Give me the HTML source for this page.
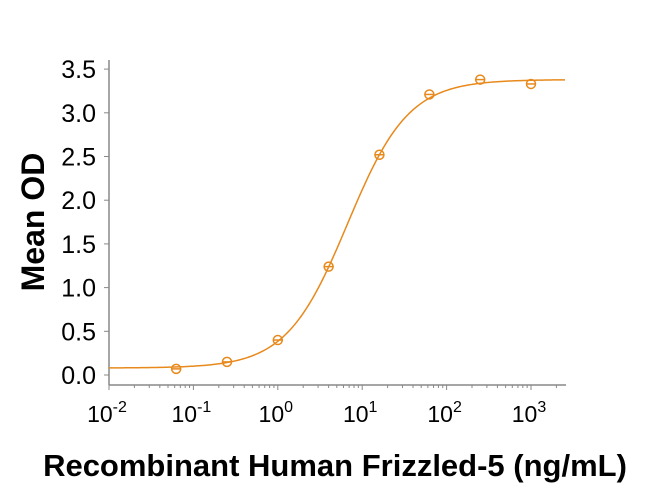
<!DOCTYPE html>
<html><head><meta charset="utf-8"><style>
body{margin:0;background:#fff;}
svg text{font-family:"Liberation Sans",Arial,sans-serif;}
</style></head><body>
<svg id="chart" width="650" height="487" xmlns="http://www.w3.org/2000/svg">
<g id="axes"></g><g id="marks"></g>
<text x="0" y="0" transform="translate(44,222) rotate(-90)" text-anchor="middle" font-size="32" font-weight="bold">Mean OD</text>
<text x="335" y="476" text-anchor="middle" font-size="31" font-weight="bold">Recombinant Human Frizzled-5 (ng/mL)</text>
</svg>
<script>
const concentrations=[0.0625,0.25,1,4,16,62.5,250,1000];
const meanOD=[0.07,0.15,0.40,1.24,2.52,3.21,3.38,3.33];
const yTicks=[0,0.5,1,1.5,2,2.5,3,3.5];
const yTickLabels=["0.0","0.5","1.0","1.5","2.0","2.5","3.0","3.5"];
const xDecades=[-2,-1,0,1,2,3];
const fitBottom=0.08, fitTop=3.38, fitEC50=6.7, fitHill=1.2;

const NS="http://www.w3.org/2000/svg";
const X0=109, DEC=84.4, Y0=375, YPER=87.4;
const xs=v=>X0+(Math.log10(v)+2)*DEC;
const ys=v=>Y0-v*YPER;
const col="#E8891C";
function mk(tag,attrs,parent){const e=document.createElementNS(NS,tag);for(const k in attrs)e.setAttribute(k,attrs[k]);parent.appendChild(e);return e;}
const axes=document.getElementById('axes'), marks=document.getElementById('marks');
let e=mk('line',{x1:X0,y1:60,x2:X0,y2:385,stroke:'#888','stroke-width':1.5},axes);


e=mk('line',{x1:X0,y1:385,x2:566,y2:385,stroke:'#888','stroke-width':1.5},axes);


yTicks.forEach((t,i)=>{
  mk('line',{x1:X0-5,y1:ys(t),x2:X0,y2:ys(t),stroke:'#888','stroke-width':1},axes);
  const tx=mk('text',{x:X0-13,y:ys(t)+9,'text-anchor':'end','font-size':25},axes);
  tx.textContent=yTickLabels[i];
  
  
});
xDecades.forEach(d=>{
  const x=X0+(d+2)*DEC;
  mk('line',{x1:x,y1:385,x2:x,y2:390,stroke:'#888','stroke-width':1},axes);
  for(let m=2;m<10;m++){const xm=x+Math.log10(m)*DEC;if(xm<566)mk('line',{x1:xm,y1:385,x2:xm,y2:388,stroke:'#888','stroke-width':1},axes);}
  const tx=mk('text',{x:x-2,y:422,'text-anchor':'middle','font-size':23},axes);
  tx.innerHTML='10<tspan dy="-10" font-size="16">'+d+'</tspan>';
  
  
});
let d='';
for(let px=X0;px<=566;px+=2){
  const c=Math.pow(10,(px-X0)/DEC-2);
  const y=fitBottom+(fitTop-fitBottom)/(1+Math.pow(fitEC50/c,fitHill));
  d+=(d?'L':'M')+px+','+ys(y).toFixed(2);
}
e=mk('path',{d:d,fill:'none',stroke:col,'stroke-width':1.5},marks);


concentrations.forEach((c,i)=>{
  const cx=xs(c), cy=ys(meanOD[i]);
  const g=mk('g',{},marks);
  
  
  mk('circle',{cx:cx,cy:cy,r:4.5,fill:'none',stroke:col,'stroke-width':1.5},g);
  mk('line',{x1:cx-5,y1:cy,x2:cx+5,y2:cy,stroke:col,'stroke-width':1.5},g);
});
</script>
</body></html>
